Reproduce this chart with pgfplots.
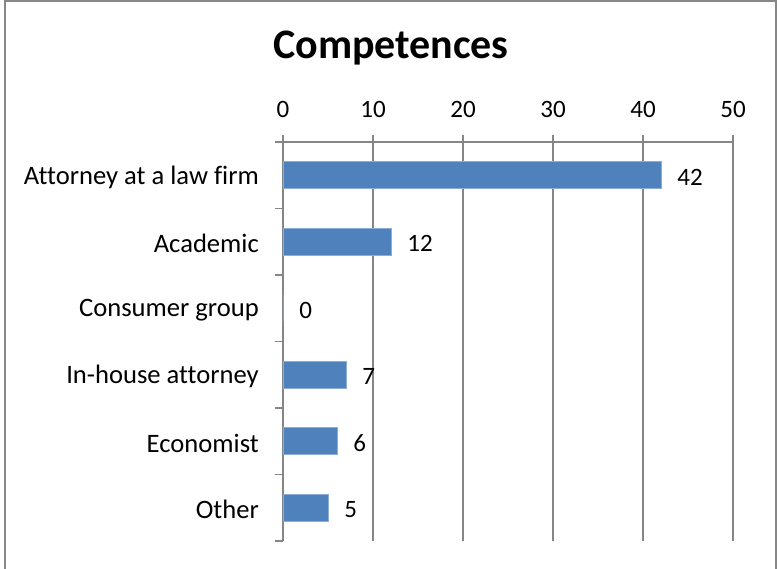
\documentclass[border=0pt]{standalone}
\usepackage{fontspec}
\setmainfont{Carlito}[Ligatures=NoCommon]
\usepackage{pgfplots}
\pgfplotsset{compat=1.18}
\definecolor{barblue}{HTML}{4F81BD}
\definecolor{gridgray}{HTML}{868686}
\definecolor{framegray}{HTML}{878787}
\newcommand{\lblfont}{\fontsize{25}{29}\selectfont}
\newcommand{\catfont}{\fontsize{26.6}{30}\selectfont}
\begin{document}
\begin{tikzpicture}
\begin{axis}[
  at={(0pt,0pt)}, anchor=south west,
  scale only axis, width=450pt, height=399pt,
  xbar, bar width=27pt,
  xmin=0, xmax=50, xtick={0,10,...,50},
  ymin=-0.5, ymax=5.5, y dir=reverse,
  ytick={0,...,5},
  yticklabels={Attorney at a law firm, Academic, Consumer group, In-house attorney, Economist, Other},
  minor ytick={-0.5,0.5,1.5,2.5,3.5,4.5,5.5},
  axis x line*=top, axis y line*=left,
  axis line style={gridgray, line width=1.5pt, -},
  xmajorgrids, grid style={gridgray, line width=1.5pt},
  tick align=outside,
  major tick length=7pt, minor tick length=8pt,
  tick style={gridgray, line width=1.5pt},
  major y tick style={draw=none},
  yticklabel style={font=\catfont, inner sep=0pt, anchor=east, xshift=-17pt, yshift=-2pt},
  xticklabel style={font=\lblfont, inner sep=0pt, anchor=south, yshift=17pt},
  /pgf/number format/assume math mode=true,
  nodes near coords,
  nodes near coords style={font=\lblfont, anchor=west, inner sep=0pt, xshift=16pt, yshift=-2pt, text=black},
]
\addplot[fill=barblue, draw=barblue!65!white, line width=0.75pt] coordinates {
  (42,0)
  (12,1)
  (0,2)
  (7,3)
  (6,4)
  (5,5)
};
\end{axis}
\node[font=\fontsize{42}{48}\selectfont\bfseries] at (108pt,493pt) {Competences};
\draw[framegray, line width=1.5pt] (-278pt,-60pt) -- (-278pt,540pt) -- (493pt,540pt) -- (493pt,-60pt);
\pgfresetboundingbox
\path[use as bounding box] (-283pt,-28pt) rectangle (494pt,541pt);
\end{tikzpicture}
\end{document}
